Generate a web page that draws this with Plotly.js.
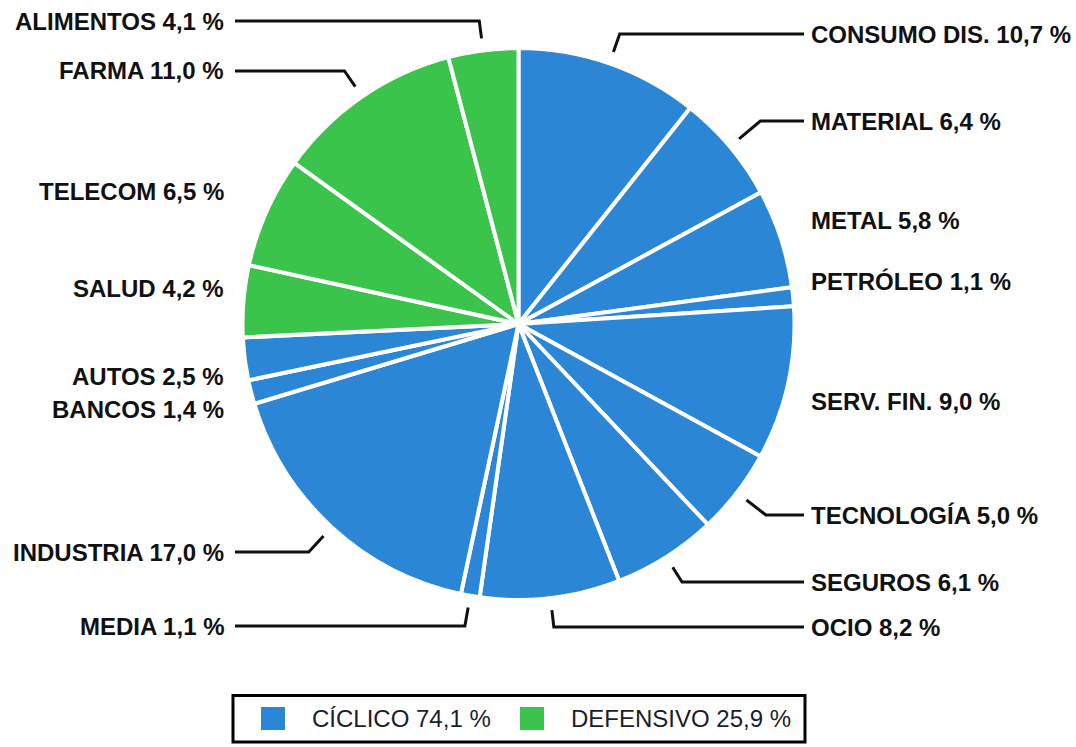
<!DOCTYPE html>
<html>
<head>
<meta charset="utf-8">
<script src="https://cdn.plot.ly/plotly-3.0.1.min.js"></script>
<style>html,body{margin:0;padding:0;background:#fff;}#chart{width:1076px;height:747px;}</style>
</head>
<body>
<div id="chart"></div>
<script>
// ---- data ----
const sectors = ['CONSUMO DIS.', 'MATERIAL', 'METAL', 'PETRÓLEO', 'SERV. FIN.', 'TECNOLOGÍA',
  'SEGUROS', 'OCIO', 'MEDIA', 'INDUSTRIA', 'BANCOS', 'AUTOS', 'SALUD', 'TELECOM', 'FARMA', 'ALIMENTOS'];
const weights = [10.7, 6.4, 5.8, 1.1, 9.0, 5.0, 6.1, 8.2, 1.1, 17.0, 1.4, 2.5, 4.2, 6.5, 11.0, 4.1];
const sectorGroup = ['CÍCLICO', 'CÍCLICO', 'CÍCLICO', 'CÍCLICO', 'CÍCLICO', 'CÍCLICO', 'CÍCLICO', 'CÍCLICO',
  'CÍCLICO', 'CÍCLICO', 'CÍCLICO', 'CÍCLICO', 'DEFENSIVO', 'DEFENSIVO', 'DEFENSIVO', 'DEFENSIVO'];
const groupNames = ['CÍCLICO', 'DEFENSIVO'];
const groupTotals = [74.1, 25.9];

// ---- layout settings (pixels) ----
const W = 1076, H = 747;
const groupColors = {'CÍCLICO': '#2B87D6', 'DEFENSIVO': '#3BC44B'};
const cx = 518.5, cy = 324, R = 276;           // pie centre / radius incl. white border
const labelY = [34, 121, 220, 281, 401, 515, 582, 627, 626, 552, 409, 377, 289, 192, 71, 21];
const hasLeader = [1, 1, 0, 0, 0, 1, 1, 1, 1, 1, 0, 0, 0, 0, 1, 1];
const rightTextX = 810, rightLineX = 804, leftTextX = 225, leftLineX = 235;
const leaderStart = 288;

const px = x => x / W;
const py = y => 1 - y / H;
const fmt = v => v.toFixed(1).replace('.', ',') + ' %';

const pie = {
  type: 'pie',
  labels: sectors,
  values: weights,
  sort: false,
  direction: 'clockwise',
  rotation: 0,
  textinfo: 'none',
  hoverinfo: 'label+percent',
  showlegend: false,
  marker: {colors: sectorGroup.map(g => groupColors[g]), line: {color: '#ffffff', width: 4}},
  domain: {x: [px(cx - R), px(cx + R)], y: [py(cy + R), py(cy - R)]}
};

const total = weights.reduce((a, b) => a + b, 0);
const annotations = [];
const shapes = [];
let cum = 0;
const labelFont = {family: '"Liberation Sans", Arial, sans-serif', size: 24, color: '#111111', weight: 700};
weights.forEach((v, i) => {
  const mid = (cum + v / 2) / total * 2 * Math.PI;
  cum += v;
  const right = Math.sin(mid) >= 0;
  const sx = Math.sin(mid), sy = -Math.cos(mid);
  annotations.push({
    xref: 'paper', yref: 'paper',
    x: px(right ? rightTextX : leftTextX), y: py(labelY[i]),
    xanchor: right ? 'left' : 'right', yanchor: 'middle',
    text: sectors[i] + ' ' + fmt(v),
    showarrow: false, font: labelFont, borderpad: 0
  });
  if (hasLeader[i]) {
    const x0 = cx + leaderStart * sx, y0 = cy + leaderStart * sy;
    const t = (labelY[i] - y0) / sy;
    const x1 = x0 + t * sx, y1 = labelY[i];
    const x2 = right ? rightLineX : leftLineX;
    shapes.push({
      type: 'path', xref: 'paper', yref: 'paper',
      path: `M ${px(x0)} ${py(y0)} L ${px(x1)} ${py(y1)} L ${px(x2)} ${py(y1)}`,
      line: {color: '#111111', width: 3}
    });
  }
});

// legend box
shapes.push({type: 'rect', xref: 'paper', yref: 'paper', x0: px(233), x1: px(805), y0: py(742), y1: py(695.5),
  line: {color: '#000000', width: 3}, fillcolor: 'rgba(0,0,0,0)'});
const legX = [261, 520];
groupNames.forEach((g, i) => {
  shapes.push({type: 'rect', xref: 'paper', yref: 'paper', x0: px(legX[i]), x1: px(legX[i] + 24),
    y0: py(730), y1: py(707), line: {width: 0}, fillcolor: groupColors[g]});
  annotations.push({xref: 'paper', yref: 'paper', x: px(legX[i] + 50), y: py(718.5),
    xanchor: 'left', yanchor: 'middle', showarrow: false, borderpad: 0,
    text: g + ' ' + fmt(groupTotals[i]),
    font: {family: '"Liberation Sans", Arial, sans-serif', size: 24, color: '#1c1c2c'}});
});

const layout = {
  width: W, height: H,
  margin: {l: 0, r: 0, t: 0, b: 0},
  paper_bgcolor: '#ffffff', plot_bgcolor: '#ffffff',
  showlegend: false,
  annotations: annotations,
  shapes: shapes
};
Plotly.newPlot('chart', [pie], layout, {displayModeBar: false, staticPlot: true});
</script>
</body>
</html>
